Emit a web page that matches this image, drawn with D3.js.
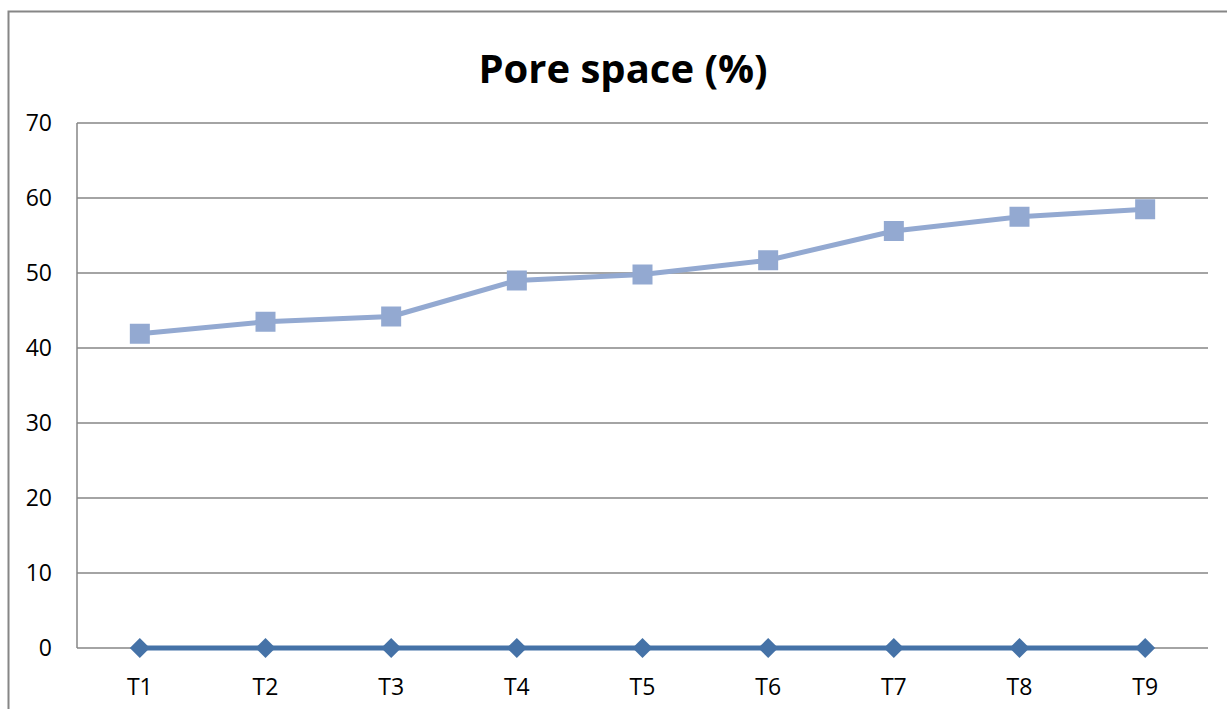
<!DOCTYPE html>
<html>
<head>
<meta charset="utf-8">
<script src="https://cdn.jsdelivr.net/npm/d3@7"></script>
<style>
  body { margin: 0; background: #fff; }
  text { font-family: "Open Sans", "Noto Sans", sans-serif; fill: #000; }
</style>
</head>
<body>
<script>
var w = 1227,
    h = 709;

// Data
var categories = ['T1', 'T2', 'T3', 'T4', 'T5', 'T6', 'T7', 'T8', 'T9'];
var seriesZero = [0, 0, 0, 0, 0, 0, 0, 0, 0];
var poreSpace = [41.9, 43.5, 44.2, 49.0, 49.8, 51.7, 55.6, 57.5, 58.5];
var yTicks = [0, 10, 20, 30, 40, 50, 60, 70];

var margin = {left: 77, right: 19, top: 123, bottom: 61};

var svg = d3.select('body')
            .append('svg')
            .attr('width', w)
            .attr('height', h);

// outer chart border (runs off right/bottom edges)
svg.append('rect')
   .attr('x', 8.5)
   .attr('y', 11.5)
   .attr('width', w + 20)
   .attr('height', h + 20)
   .style('fill', 'none')
   .style('stroke', '#868686')
   .style('stroke-width', 2);

var x = d3.scaleBand()
          .domain(categories)
          .range([margin.left, w - margin.right]);

var y = d3.scaleLinear()
          .domain([0, 70])
          .range([h - margin.bottom, margin.top]);

// gridlines
svg.append('g')
   .selectAll('line')
   .data(yTicks)
   .enter()
   .append('line')
   .attr('x1', margin.left)
   .attr('x2', w - margin.right)
   .attr('y1', function(d) { return y(d); })
   .attr('y2', function(d) { return y(d); })
   .style('stroke', '#868686')
   .style('stroke-width', 1.5);

// left axis line
svg.append('line')
   .attr('x1', margin.left)
   .attr('x2', margin.left)
   .attr('y1', y(70))
   .attr('y2', y(0))
   .style('stroke', '#868686')
   .style('stroke-width', 1.5);

// y labels
svg.append('g')
   .selectAll('text')
   .data(yTicks)
   .enter()
   .append('text')
   .attr('x', 52)
   .attr('y', function(d) { return y(d); })
   .attr('dy', '0.36em')
   .attr('text-anchor', 'end')
   .style('font-size', '23px')
   .text(function(d) { return d; });

// x labels
svg.append('g')
   .selectAll('text')
   .data(categories)
   .enter()
   .append('text')
   .attr('x', function(d) { return x(d) + x.bandwidth() / 2; })
   .attr('y', 695)
   .attr('text-anchor', 'middle')
   .style('font-size', '23px')
   .text(function(d) { return d; });

// title
svg.append('text')
   .attr('x', 623)
   .attr('y', 83)
   .attr('text-anchor', 'middle')
   .style('font-size', '40px')
   .style('font-weight', 'bold')
   .text('Pore space (%)');

var cx = function(d, i) { return x(categories[i]) + x.bandwidth() / 2; };

var line = d3.line()
             .x(cx)
             .y(function(d) { return y(d); });

// pore space series (squares)
svg.append('path')
   .datum(poreSpace)
   .attr('d', line)
   .style('fill', 'none')
   .style('stroke', '#93a9d1')
   .style('stroke-width', 5)
   .style('stroke-linejoin', 'round');

svg.append('g')
   .selectAll('rect')
   .data(poreSpace)
   .enter()
   .append('rect')
   .attr('x', function(d, i) { return cx(d, i) - 10; })
   .attr('y', function(d) { return y(d) - 10; })
   .attr('width', 20)
   .attr('height', 20)
   .style('fill', '#93a9d1');

// zero series (diamonds)
svg.append('path')
   .datum(seriesZero)
   .attr('d', line)
   .style('fill', 'none')
   .style('stroke', '#4572a7')
   .style('stroke-width', 5);

svg.append('g')
   .selectAll('path')
   .data(seriesZero)
   .enter()
   .append('path')
   .attr('d', function(d, i) {
      var px = cx(d, i), py = y(d), r = 10;
      return 'M' + px + ',' + (py - r) + 'L' + (px + r) + ',' + py +
             'L' + px + ',' + (py + r) + 'L' + (px - r) + ',' + py + 'Z';
   })
   .style('fill', '#4572a7');
</script>
</body>
</html>
